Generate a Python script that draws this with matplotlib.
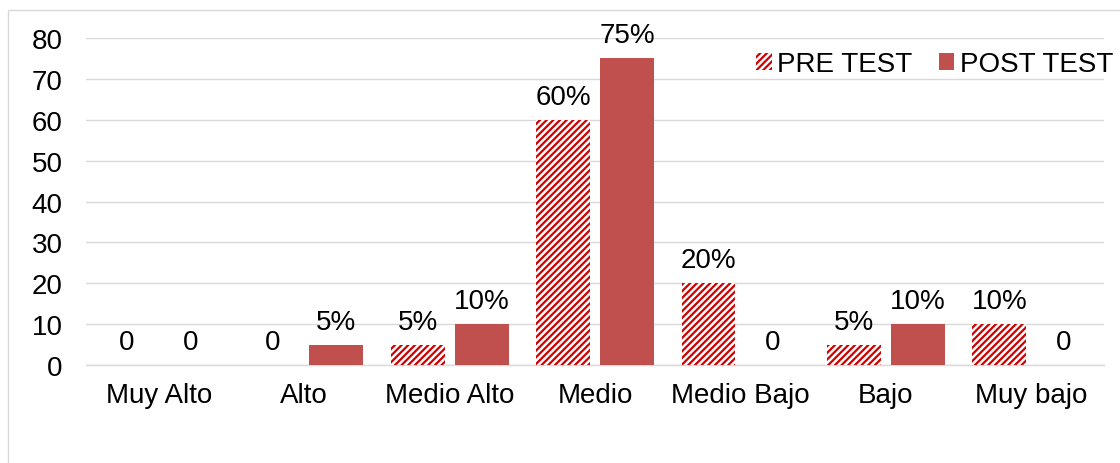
import numpy as np
import matplotlib.pyplot as plt
from matplotlib.patches import Rectangle

plt.rcParams['font.family'] = ['Liberation Sans', 'DejaVu Sans']
plt.rcParams['hatch.linewidth'] = 1.6

# niveles y porcentajes de cada prueba
niveles = ["Muy Alto", "Alto", "Medio Alto", "Medio", "Medio Bajo", "Bajo", "Muy bajo"]
pre_test = [0, 0, 5, 60, 20, 5, 10]
post_test = [0, 5, 10, 75, 0, 10, 0]
y_ticks = [0, 10, 20, 30, 40, 50, 60, 70, 80]


def etiqueta(v):
    # los ceros se muestran sin signo de porcentaje
    return "0" if v == 0 else f"{v}%"


fig = plt.figure(figsize=(11.2, 4.64), dpi=100)
ax = fig.add_axes([0.0768, 0.2112, 0.909, 0.7047])

# marco gris del grafico
fig.patches.append(Rectangle((8 / 1120, -0.1), 1.2, 1 - 11 / 464 + 0.1,
                             transform=fig.transFigure, fill=False,
                             edgecolor='#D9D9D9', linewidth=1.0, zorder=0))

x = np.arange(len(niveles))
ancho = 0.37
desp = 0.22

# el rayado toma el color del borde; el borde en si no se dibuja (linewidth 0)
b1 = ax.bar(x - desp, pre_test, ancho, color='white', hatch='/////',
            edgecolor='#D00000', linewidth=0, label='PRE TEST', zorder=3)
b2 = ax.bar(x + desp, post_test, ancho, color='#C0504D',
            edgecolor='none', label='POST TEST', zorder=3)

for barras, vals in ((b1, pre_test), (b2, post_test)):
    for rect, v in zip(barras, vals):
        ax.annotate(etiqueta(v), (rect.get_x() + rect.get_width() / 2, v),
                    xytext=(0, 11.5), textcoords='offset points',
                    ha='center', va='baseline', fontsize=20, color='black')

ax.set_xlim(-0.5, len(niveles) - 0.5)
ax.set_ylim(0, 80)
ax.set_yticks(y_ticks)
ax.set_xticks(x)
ax.set_xticklabels(niveles)
ax.tick_params(axis='y', length=0, pad=17, labelsize=20)
ax.tick_params(axis='x', length=0, pad=12, labelsize=20)

ax.grid(axis='y', color='#D9D9D9', linewidth=1.0, zorder=0)
ax.set_axisbelow(True)
for s in ['top', 'right', 'left']:
    ax.spines[s].set_visible(False)
ax.spines['bottom'].set_color('#D9D9D9')
ax.spines['bottom'].set_linewidth(1.0)

ax.legend(loc='center right', bbox_to_anchor=(1113 / 1120, 1 - 65 / 464),
          bbox_transform=fig.transFigure, ncol=2, frameon=False, fontsize=20,
          handlelength=0.55, handleheight=0.55, handletextpad=0.2,
          columnspacing=0.95, borderpad=0, borderaxespad=0)

fig.savefig('out.png', dpi=100, facecolor='white')
